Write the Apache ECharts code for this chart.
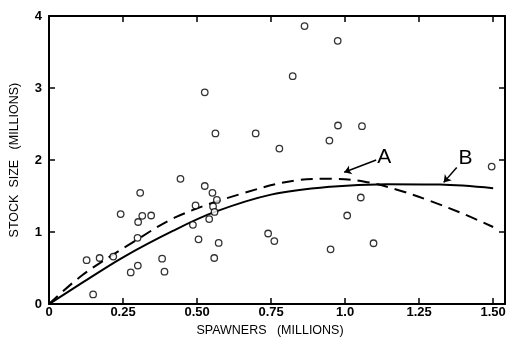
<!DOCTYPE html>
<html>
<head>
<meta charset="utf-8">
<script src="https://cdn.jsdelivr.net/npm/echarts@6/dist/echarts.min.js"></script>
<style>
  html, body { margin: 0; padding: 0; background: #fff; }
  #chart { width: 514px; height: 342px; }
</style>
</head>
<body>
<div id="chart"></div>
<script>
// observed points (spawners, stock size), millions
var obsX = [0.127, 0.149, 0.171, 0.217, 0.242, 0.276, 0.299, 0.300, 0.301, 0.308, 0.315, 0.345,
  0.382, 0.390, 0.444, 0.486, 0.495, 0.505, 0.526, 0.526, 0.541, 0.552, 0.554, 0.558, 0.559,
  0.562, 0.567, 0.573, 0.698, 0.740, 0.761, 0.778, 0.823, 0.863, 0.947, 0.951, 0.975, 0.976,
  1.007, 1.053, 1.057, 1.096, 1.495];
var obsY = [0.61, 0.135, 0.64, 0.66, 1.25, 0.44, 0.92, 0.535, 1.14, 1.545, 1.226, 1.23,
  0.63, 0.45, 1.74, 1.10, 1.37, 0.90, 1.64, 2.94, 1.18, 1.545, 1.356, 0.64, 1.28,
  2.37, 1.446, 0.85, 2.37, 0.98, 0.875, 2.16, 3.165, 3.86, 2.27, 0.76, 3.655, 2.48,
  1.23, 1.48, 2.47, 0.845, 1.91];

// curve B (solid)
var curveBX = [0, 0.11, 0.25, 0.42, 0.56, 0.75, 0.95, 1.14, 1.32, 1.50];
var curveBY = [0, 0.29, 0.65, 1.02, 1.28, 1.52, 1.63, 1.665, 1.66, 1.61];
// curve A (dashed)
var curveAX = [0, 0.112, 0.28, 0.43, 0.64, 0.84, 0.95, 1.066, 1.178, 1.289, 1.401, 1.50];
var curveAY = [0, 0.40, 0.85, 1.21, 1.52, 1.72, 1.74, 1.70, 1.585, 1.43, 1.25, 1.07];

var xTickLabels = ['0', '0.25', '0.50', '0.75', '1.0', '1.25', '1.50'];
var yTickLabels = ['0', '1', '2', '3', '4'];

// annotation arrows: [fromX, fromY, toX, toY]
var arrowA = [1.105, 2.00, 0.997, 1.83];
var arrowB = [1.377, 1.895, 1.333, 1.69];
var labelA = [1.132, 2.04];
var labelB = [1.407, 2.03];

function zip(xs, ys) {
  return xs.map(function (x, i) { return [x, ys[i]]; });
}

var font = 'Liberation Sans, Arial, sans-serif';
var axisLine = { show: true, onZero: false, lineStyle: { color: '#000', width: 2 } };
var tick = { show: true, inside: true, length: 6, lineStyle: { color: '#000', width: 1.5 } };

var chart = echarts.init(document.getElementById('chart'));
var option = {
  animation: false,
  grid: { left: 46, top: 16, right: 9, bottom: 29 },
  xAxis: [
    {
      type: 'value', min: 0, max: 1.54, interval: 0.25,
      name: 'SPAWNERS   (MILLIONS)', nameLocation: 'middle', nameGap: 15,
      nameTextStyle: { color: '#000', fontSize: 12.5, fontFamily: font, padding: [0, 14, 0, 0] },
      axisLine: axisLine, axisTick: tick, splitLine: { show: false },
      axisLabel: {
        color: '#000', fontSize: 13, fontFamily: font, fontWeight: 'bold', margin: 2,
        formatter: function (v) {
          var i = Math.round(v / 0.25);
          return Math.abs(v - i * 0.25) < 1e-6 && xTickLabels[i] ? xTickLabels[i] : '';
        }
      }
    },
    {
      type: 'value', position: 'top', min: 0, max: 1.54, interval: 0.25,
      axisLine: axisLine, axisTick: tick, axisLabel: { show: false }, splitLine: { show: false }
    }
  ],
  yAxis: [
    {
      type: 'value', min: 0, max: 4, interval: 1,
      name: 'STOCK  SIZE   (MILLIONS)', nameLocation: 'middle', nameGap: 28,
      nameTextStyle: { color: '#000', fontSize: 12.5, fontFamily: font },
      axisLine: axisLine, axisTick: tick, splitLine: { show: false },
      axisLabel: {
        color: '#000', fontSize: 13, fontFamily: font, fontWeight: 'bold', margin: 7,
        formatter: function (v) { return yTickLabels[Math.round(v)]; }
      }
    },
    {
      type: 'value', position: 'right', min: 0, max: 4, interval: 1,
      axisLine: axisLine, axisTick: tick, axisLabel: { show: false }, splitLine: { show: false }
    }
  ],
  series: [
    {
      name: 'B', type: 'line', smooth: 0.35, showSymbol: false,
      data: zip(curveBX, curveBY),
      lineStyle: { color: '#000', width: 2 },
      markLine: {
        silent: true, symbol: ['none', 'arrow'], symbolSize: 7,
        lineStyle: { color: '#000', width: 1.5, type: 'solid' },
        label: { show: false },
        data: [
          [{ coord: [arrowA[0], arrowA[1]] }, { coord: [arrowA[2], arrowA[3]] }],
          [{ coord: [arrowB[0], arrowB[1]] }, { coord: [arrowB[2], arrowB[3]] }]
        ]
      },
      markPoint: {
        silent: true, symbol: 'circle', symbolSize: 1, itemStyle: { color: 'rgba(0,0,0,0)' },
        label: { show: true, position: 'inside', color: '#000', fontSize: 21, fontFamily: font,
          formatter: function (p) { return p.name; } },
        data: [
          { name: 'A', coord: labelA },
          { name: 'B', coord: labelB }
        ]
      }
    },
    {
      name: 'A', type: 'line', smooth: 0.35, showSymbol: false,
      data: zip(curveAX, curveAY),
      lineStyle: { color: '#000', width: 2, type: [12, 7] }
    },
    {
      name: 'obs', type: 'scatter', symbol: 'circle', symbolSize: 6.5, z: 5,
      data: zip(obsX, obsY),
      itemStyle: { color: '#fff', borderColor: '#000', borderWidth: 1.3 }
    }
  ]
};
chart.setOption(option);
</script>
</body>
</html>
